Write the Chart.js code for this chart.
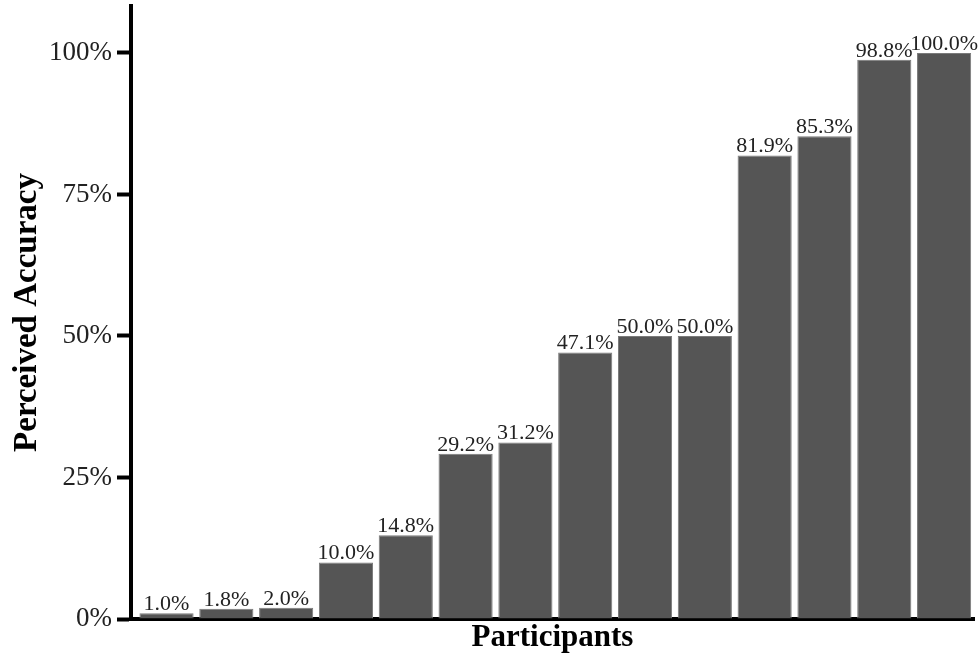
<!DOCTYPE html>
<html>
<head>
<meta charset="utf-8">
<script src="https://cdn.jsdelivr.net/npm/chart.js@4/dist/chart.umd.min.js"></script>
<style>
  html, body { margin: 0; padding: 0; background: #fff; }
  #wrap { width: 980px; height: 653px; }
</style>
</head>
<body>
<div id="wrap"><canvas id="chart"></canvas></div>
<script>
// data
const participants = [0, 1, 2, 3, 4, 5, 6, 7, 8, 9, 10, 11, 12, 13];
const accuracy = [1.0, 1.8, 2.0, 10.0, 14.8, 29.2, 31.2, 47.1, 50.0, 50.0, 81.9, 85.3, 98.8, 100.0];
const yTicks = [0, 25, 50, 75, 100];

const serif = '"Liberation Serif", "Times New Roman", serif';

// value labels above each bar
const barLabels = {
  id: 'barLabels',
  afterDatasetsDraw(chart) {
    const ctx = chart.ctx;
    const meta = chart.getDatasetMeta(0);
    ctx.save();
    ctx.font = '22px ' + serif;
    ctx.fillStyle = '#222';
    ctx.textAlign = 'center';
    ctx.textBaseline = 'alphabetic';
    meta.data.forEach(function(bar, i) {
      ctx.fillText(accuracy[i].toFixed(1) + '%', bar.x, bar.y - 3);
    });
    ctx.restore();
  }
};

new Chart(document.getElementById('chart'), {
  type: 'bar',
  data: {
    datasets: [{
      data: participants.map(function(p, i) { return { x: p, y: accuracy[i] }; }),
      backgroundColor: '#555555',
      borderColor: '#7a7a7a',
      borderWidth: 1,
      barPercentage: 0.905,
      categoryPercentage: 1.0
    }]
  },
  options: {
    responsive: true,
    maintainAspectRatio: false,
    animation: false,
    layout: { padding: { top: 6, right: 6, left: 8, bottom: 0 } },
    plugins: {
      legend: { display: false },
      tooltip: { enabled: false }
    },
    scales: {
      x: {
        type: 'linear',
        offset: false,
        min: -0.594,
        max: 13.5,
        grid: { display: false },
        border: { display: true, color: '#000', width: 4 },
        ticks: { display: false },
        title: {
          display: true,
          text: 'Participants',
          color: '#000',
          font: { family: serif, size: 31, weight: 'bold' },
          padding: { top: 0, bottom: -4 }
        },
        afterFit(scale) {
          scale.height = 34;
          scale.paddingLeft = 0;
          scale.paddingRight = 0;
        }
      },
      y: {
        min: 0,
        max: 108.3,
        afterBuildTicks(scale) {
          scale.ticks = yTicks.map(function(v) { return { value: v }; });
        },
        grid: {
          drawOnChartArea: false,
          drawTicks: true,
          tickLength: 14,
          tickWidth: 4,
          tickColor: '#000'
        },
        border: { display: true, color: '#000', width: 4 },
        ticks: {
          color: '#222',
          padding: 5,
          font: { family: serif, size: 27 },
          callback: function(v) { return v + '%'; }
        },
        title: {
          display: true,
          text: 'Perceived Accuracy',
          color: '#000',
          font: { family: serif, size: 33, weight: 'bold' },
          padding: { top: 0, bottom: 0 }
        },
        afterFit(scale) {
          scale.width = 123;
          scale.paddingTop = 0;
          scale.paddingBottom = 0;
        }
      }
    }
  },
  plugins: [barLabels]
});
</script>
</body>
</html>
